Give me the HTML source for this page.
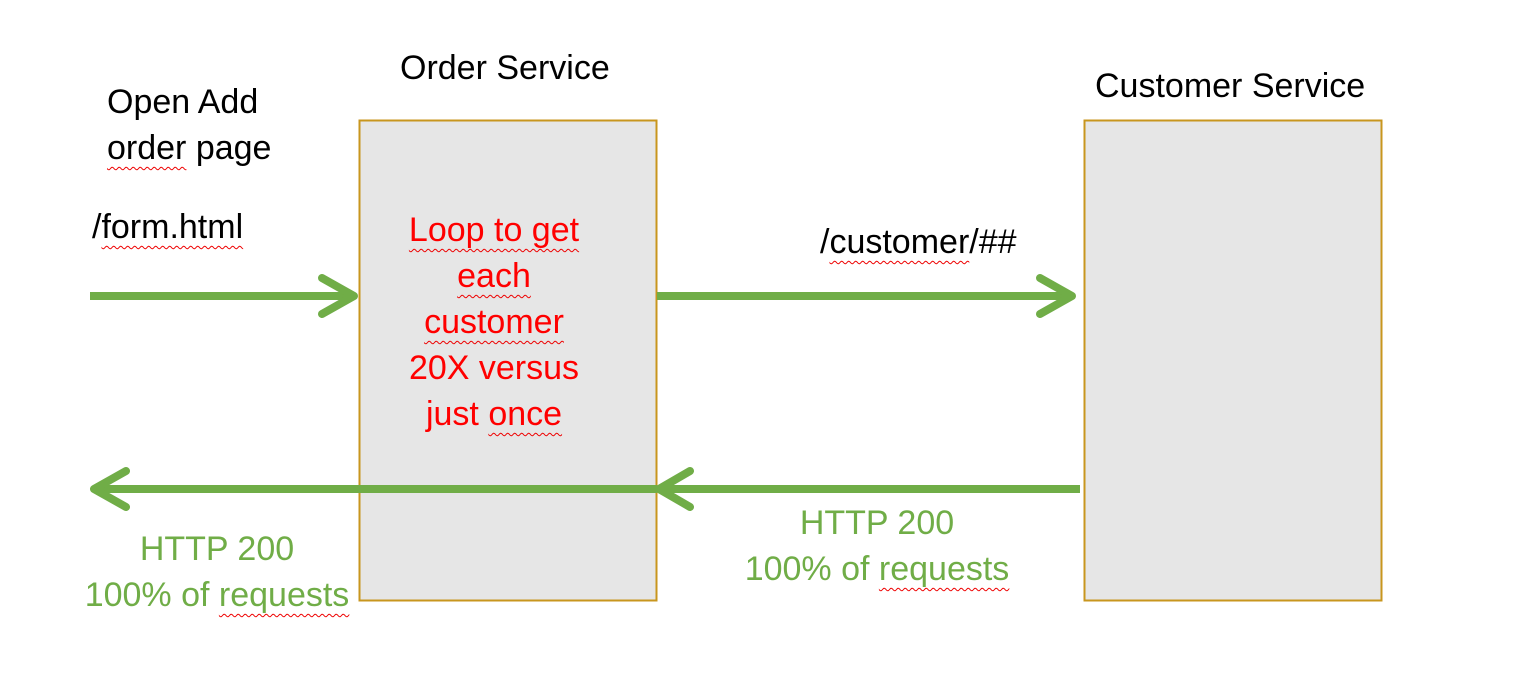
<!DOCTYPE html>
<html><head><meta charset="utf-8"><style>
body{margin:0;width:1518px;height:681px;background:#fff;position:relative;overflow:hidden;font-family:"Liberation Sans",sans-serif}
.t{position:absolute;font-size:34px;color:#000;white-space:nowrap;line-height:46px}
.w{text-decoration:underline wavy #e00;text-decoration-thickness:1px;text-underline-offset:7px}
.r{color:#f00;text-align:center}
.g{color:#70ad47;text-align:center}
</style></head><body>
<svg width="1518" height="681" style="position:absolute;left:0;top:0">
<rect x="359.5" y="120.5" width="297" height="480" fill="#e6e6e6" stroke="#c8961e" stroke-width="2"/>
<rect x="1084.5" y="120.5" width="297" height="480" fill="#e6e6e6" stroke="#c8961e" stroke-width="2"/>
<g stroke="#70ad47" stroke-width="8" fill="none" stroke-linecap="round" stroke-linejoin="round">
<line x1="90" y1="296" x2="352" y2="296" stroke-linecap="butt"/>
<polyline points="322,278 354,296 322,314"/>
<line x1="657" y1="296" x2="1070" y2="296" stroke-linecap="butt"/>
<polyline points="1040,278 1072,296 1040,314"/>
<line x1="1080" y1="489" x2="662" y2="489" stroke-linecap="butt"/>
<polyline points="690,471 659,489 690,507"/>
<line x1="657" y1="489" x2="97" y2="489" stroke-linecap="butt"/>
<polyline points="126,471 94,489 126,507"/>
</g>
</svg>
<div class="t" style="left:400px;top:45px">Order Service</div>
<div class="t" style="left:1095px;top:63px">Customer Service</div>
<div class="t" style="left:107px;top:79px">Open Add<br><span class="w">order</span> page</div>
<div class="t" style="left:92px;top:204px">/<span class="w">form.html</span></div>
<div class="t" style="left:820px;top:219px">/<span class="w">customer</span>/##</div>
<div class="t r" style="left:330px;width:328px;top:207px"><span class="w">Loop to get</span><br><span class="w">each</span><br><span class="w">customer</span><br>20X versus<br>just <span class="w">once</span></div>
<div class="t g" style="left:52px;width:330px;top:526px">HTTP 200<br>100% of <span class="w">requests</span></div>
<div class="t g" style="left:712px;width:330px;top:500px">HTTP 200<br>100% of <span class="w">requests</span></div>
</body></html>
